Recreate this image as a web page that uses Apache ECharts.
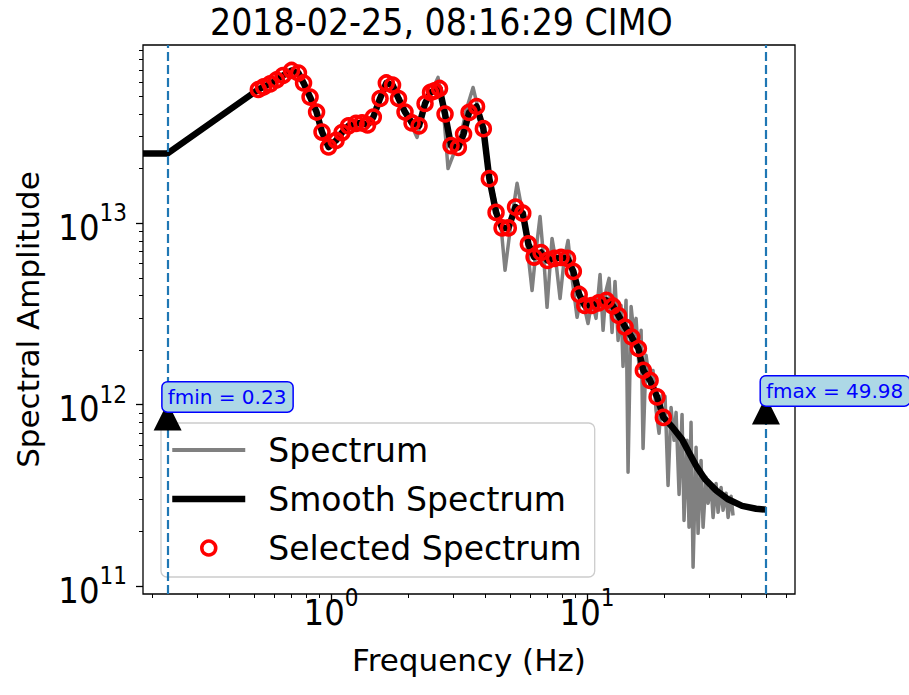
<!DOCTYPE html>
<html>
<head>
<meta charset="utf-8">
<script src="https://cdn.jsdelivr.net/npm/echarts@6/dist/echarts.min.js"></script>
<style>
  html, body { margin: 0; padding: 0; background: #ffffff; }
  #chart { width: 909px; height: 695px; }
</style>
</head>
<body>
<div id="chart"></div>
<script>
// Spectral amplitude of one station record, drawn on log-log axes.
const titleText = '2018-02-25, 08:16:29 CIMO';
const fMin = 0.23;
const fMax = 49.98;
const xRange = [0.1843, 64.9];
const yRange = [9.05e10, 9.6e13];

// Raw spectrum: [frequency (Hz), amplitude]
const spectrum = [
  [0.519, 5.46e13], [0.547, 5.67e13], [0.578, 5.82e13], [0.615, 6.12e13], [0.649, 6.52e13],
  [0.698, 6.95e13], [0.743, 6.77e13], [0.784, 5.89e13], [0.828, 4.93e13], [0.882, 4.08e13],
  [0.922, 3.16e13], [0.982, 2.58e13], [1.046, 2.86e13], [1.104, 3.16e13], [1.176, 3.46e13],
  [1.252, 3.55e13], [1.322, 3.59e13], [1.395, 3.46e13], [1.459, 3.88e13], [1.554, 4.93e13],
  [1.640, 6.04e13], [1.731, 5.82e13], [1.843, 4.81e13], [1.945, 4.08e13], [2.054, 3.50e13],
  [2.168, 2.97e13], [2.329, 4.57e13], [2.459, 5.26e13], [2.618, 6.36e13], [2.738, 4.46e13],
  [2.864, 2.00e13], [3.050, 2.52e13], [3.190, 2.86e13], [3.368, 4.18e13], [3.587, 5.60e13],
  [3.786, 4.08e13], [3.960, 3.25e13], [4.180, 1.77e13], [4.411, 1.254e13], [4.614, 9.60e12],
  [4.783, 5.50e12], [5.049, 1.010e13], [5.329, 1.66e13], [5.623, 1.104e13], [5.831, 7.55e12],
  [6.098, 4.26e12], [6.321, 7.08e12], [6.552, 1.090e13], [6.792, 6.08e12], [6.978, 3.44e12],
  [7.298, 8.25e12], [7.565, 6.08e12], [7.845, 3.85e12], [8.132, 6.24e12], [8.430, 8.04e12],
  [8.739, 4.97e12], [9.140, 3.03e12], [9.475, 3.95e12], [9.730, 3.52e12], [10.09, 2.80e12],
  [10.46, 3.76e12], [10.84, 2.99e12], [11.24, 5.22e12], [11.55, 2.57e12], [11.87, 4.26e12],
  [12.19, 4.97e12], [12.52, 2.50e12], [12.86, 4.78e12], [13.22, 2.26e12], [13.58, 3.52e12],
  [13.82, 1.626e12], [14.20, 3.76e12], [14.46, 4.24e11], [14.86, 3.48e12], [15.26, 2.41e12],
  [15.54, 2.99e12], [15.97, 1.585e12], [16.26, 2.57e12], [16.55, 5.74e11], [17.00, 1.87e12],
  [17.63, 1.277e12], [18.10, 1.545e12], [18.60, 9.30e11], [19.11, 6.95e11], [19.63, 1.125e12],
  [20.17, 1.11e12], [20.72, 3.59e11], [21.29, 9.66e11], [21.87, 6.36e11], [22.27, 9.07e11],
  [22.88, 3.20e11], [23.50, 8.84e11], [23.92, 2.30e11], [24.58, 6.36e11], [25.02, 2.11e11],
  [25.48, 7.99e11], [25.95, 1.27e11], [26.66, 5.82e11], [27.14, 1.954e11], [27.88, 4.93e11],
  [28.39, 2.11e11], [29.17, 3.98e11], [29.70, 2.86e11], [30.51, 3.59e11], [31.06, 2.39e11],
  [31.91, 3.68e11], [32.49, 2.55e11], [33.38, 3.50e11], [33.98, 2.62e11], [34.91, 3.25e11],
  [35.55, 2.39e11], [36.52, 3.13e11], [37.18, 2.45e11]
];

// Smoothed spectrum, in three parts: below the band, the selected band, above it
const smoothHead = [[0.1843, 2.425e13], [0.23, 2.425e13]];
const selected = [
  [0.520, 5.46e13], [0.545, 5.64e13], [0.578, 5.86e13], [0.612, 6.16e13], [0.649, 6.52e13],
  [0.701, 6.95e13], [0.746, 6.73e13], [0.781, 5.93e13], [0.828, 4.96e13], [0.878, 4.10e13],
  [0.922, 3.18e13], [0.978, 2.63e13], [1.046, 2.86e13], [1.104, 3.16e13], [1.170, 3.44e13],
  [1.252, 3.55e13], [1.322, 3.57e13], [1.389, 3.48e13], [1.463, 3.85e13], [1.554, 4.87e13],
  [1.644, 5.93e13], [1.739, 5.78e13], [1.835, 4.87e13], [1.945, 4.10e13], [2.072, 3.57e13],
  [2.207, 3.44e13], [2.329, 4.57e13], [2.447, 5.26e13], [2.537, 5.36e13], [2.653, 5.53e13],
  [2.788, 4.00e13], [2.943, 2.68e13], [3.143, 2.62e13], [3.294, 3.10e13], [3.460, 4.08e13],
  [3.702, 4.40e13], [3.935, 3.32e13], [4.153, 1.76e13], [4.411, 1.147e13], [4.656, 9.42e12],
  [4.926, 9.42e12], [5.256, 1.227e13], [5.609, 1.136e13], [5.898, 7.69e12], [6.209, 6.51e12],
  [6.612, 6.90e12], [7.012, 6.24e12], [7.464, 6.40e12], [7.913, 6.48e12], [8.389, 6.40e12],
  [8.840, 5.43e12], [9.320, 4.05e12], [9.795, 3.52e12], [10.43, 3.52e12], [11.09, 3.64e12],
  [11.90, 3.76e12], [12.61, 3.50e12], [13.28, 3.10e12], [14.08, 2.68e12], [14.95, 2.36e12],
  [15.87, 2.04e12], [16.59, 1.545e12], [17.63, 1.361e12], [18.77, 1.104e12], [19.86, 8.51e11]
];
const smoothTail = [
  [21.48, 7.55e11], [23.50, 6.44e11], [25.26, 5.32e11], [26.90, 4.51e11], [28.91, 3.88e11],
  [31.91, 3.37e11], [35.55, 3.01e11], [40.32, 2.77e11], [45.74, 2.67e11], [49.98, 2.64e11]
];

// Amplitudes at which the fmin / fmax markers sit
const markerLevels = [8.62e11, 9.30e11];

// Tick positions
const xMajorTicks = [1, 10];
const xMinorTicks = [0.2, 0.3, 0.4, 0.5, 0.6, 0.7, 0.8, 0.9, 2, 3, 4, 5, 6, 7, 8, 9, 20, 30, 40, 50, 60];
const yMajorTicks = [1e11, 1e12, 1e13];
const yMinorTicks = [2e11, 3e11, 4e11, 5e11, 6e11, 7e11, 8e11, 9e11,
  2e12, 3e12, 4e12, 5e12, 6e12, 7e12, 8e12, 9e12,
  2e13, 3e13, 4e13, 5e13, 6e13, 7e13, 8e13, 9e13];

const tickFont = "'Liberation Sans Narrow', 'DejaVu Sans Condensed', sans-serif";
const textFont = "'DejaVu Sans', sans-serif";

function powerLabel(v) {
  const e = Math.round(Math.log10(v));
  return '{b|10}{s|' + e + '}';
}
const powerRich = {
  b: { fontFamily: tickFont, fontSize: 36, color: '#000', lineHeight: 44, verticalAlign: 'bottom' },
  s: { fontFamily: tickFont, fontSize: 24, color: '#000', lineHeight: 22, verticalAlign: 'top' }
};

function majorAxis(kind, range, ticks, extra) {
  return Object.assign({
    type: 'log',
    logBase: 10,
    gridIndex: 0,
    min: range[0],
    max: range[1],
    position: kind === 'x' ? 'bottom' : 'left',
    axisLine: { show: false },
    splitLine: { show: false },
    minorTick: { show: false },
    axisTick: {
      show: true, length: 7, customValues: ticks,
      lineStyle: { color: '#000', width: 1.3 }
    },
    axisLabel: {
      show: true, customValues: ticks,
      margin: kind === 'x' ? -8 : 16,
      formatter: powerLabel,
      rich: powerRich
    }
  }, extra || {});
}
function minorAxis(kind, range, ticks) {
  return {
    type: 'log',
    logBase: 10,
    gridIndex: 0,
    min: range[0],
    max: range[1],
    position: kind === 'x' ? 'bottom' : 'left',
    axisLine: { show: false },
    splitLine: { show: false },
    axisLabel: { show: false },
    axisTick: {
      show: true, length: 4, customValues: ticks,
      lineStyle: { color: '#000', width: 1 }
    }
  };
}

const chart = echarts.init(document.getElementById('chart'), null, { renderer: 'svg' });

const markerLabel = {
  show: true,
  position: [9, 9],
  align: 'left',
  verticalAlign: 'bottom',
  formatter: p => p.value[2],
  color: '#0000ff',
  fontFamily: textFont,
  fontSize: 20,
  backgroundColor: '#add8e6',
  borderColor: '#0000ff',
  borderWidth: 1.5,
  borderRadius: 5,
  padding: [5, 6, 4, 5]
};

chart.setOption({
  animation: false,
  backgroundColor: '#ffffff',
  title: {
    text: titleText,
    left: 210,
    top: 2,
    padding: 0,
    textStyle: { fontFamily: tickFont, fontSize: 37, fontWeight: 'normal', color: '#000', lineHeight: 40 }
  },
  grid: {
    left: 143, top: 45, right: 114, bottom: 101,
    show: true, borderColor: '#000', borderWidth: 1.3, backgroundColor: 'transparent'
  },
  legend: {
    orient: 'vertical',
    left: 161, top: 423,
    itemWidth: 73, itemHeight: 14, itemGap: 9,
    padding: [7, 13, 9, 8],
    backgroundColor: 'rgba(255,255,255,0.8)',
    borderColor: '#cccccc', borderWidth: 1.3, borderRadius: 6,
    selectedMode: false,
    textStyle: { fontFamily: textFont, fontSize: 33, color: '#000', lineHeight: 40, padding: [0, 0, 0, 18] },
    data: [
      { name: 'Spectrum', itemStyle: { opacity: 0 }, lineStyle: { width: 4, color: '#808080' } },
      { name: 'Smooth Spectrum', itemStyle: { opacity: 0 }, lineStyle: { width: 6.5, color: '#000000' } },
      { name: 'Selected Spectrum', icon: 'circle',
        itemStyle: { color: 'transparent', borderColor: '#ff0000', borderWidth: 3.5, opacity: 1 } }
    ]
  },
  xAxis: [
    majorAxis('x', xRange, xMajorTicks, {
      name: 'Frequency (Hz)', nameLocation: 'middle', nameGap: 50,
      nameTextStyle: { fontFamily: textFont, fontSize: 31, color: '#000' }
    }),
    minorAxis('x', xRange, xMinorTicks)
  ],
  yAxis: [
    majorAxis('y', yRange, yMajorTicks, {
      name: 'Spectral Amplitude', nameLocation: 'middle', nameGap: 100,
      nameTextStyle: { fontFamily: textFont, fontSize: 31, color: '#000' }
    }),
    minorAxis('y', yRange, yMinorTicks)
  ],
  series: [
    {
      name: 'Spectrum', type: 'line', xAxisIndex: 0, yAxisIndex: 0,
      data: spectrum, symbol: 'none', smooth: false,
      lineStyle: { color: '#808080', width: 3.5, join: 'round' },
      itemStyle: { color: '#808080' },
      z: 2,
      markLine: {
        silent: true, symbol: 'none', label: { show: false },
        lineStyle: { color: '#1f77b4', width: 2.2, type: [9, 4] },
        data: [{ xAxis: fMin }, { xAxis: fMax }]
      }
    },
    {
      name: 'Smooth Spectrum', type: 'line', xAxisIndex: 0, yAxisIndex: 0,
      data: smoothHead.concat(selected, smoothTail), symbol: 'none', smooth: false,
      lineStyle: { color: '#000000', width: 6.5, join: 'round' },
      itemStyle: { color: '#000000' },
      z: 3
    },
    {
      name: 'Selected Spectrum', type: 'scatter', xAxisIndex: 0, yAxisIndex: 0,
      data: selected, symbol: 'circle', symbolSize: 14,
      itemStyle: { color: 'transparent', borderColor: '#ff0000', borderWidth: 3.5, opacity: 1 },
      z: 4
    },
    {
      name: 'limits', type: 'scatter', xAxisIndex: 0, yAxisIndex: 0,
      data: [
        [fMin, markerLevels[0], 'fmin = ' + fMin.toFixed(2)],
        [fMax, markerLevels[1], 'fmax = ' + fMax.toFixed(2)]
      ],
      symbol: 'triangle', symbolSize: [28, 28],
      itemStyle: { color: '#000000', opacity: 1 },
      label: markerLabel,
      z: 5
    }
  ]
});
</script>
</body>
</html>
